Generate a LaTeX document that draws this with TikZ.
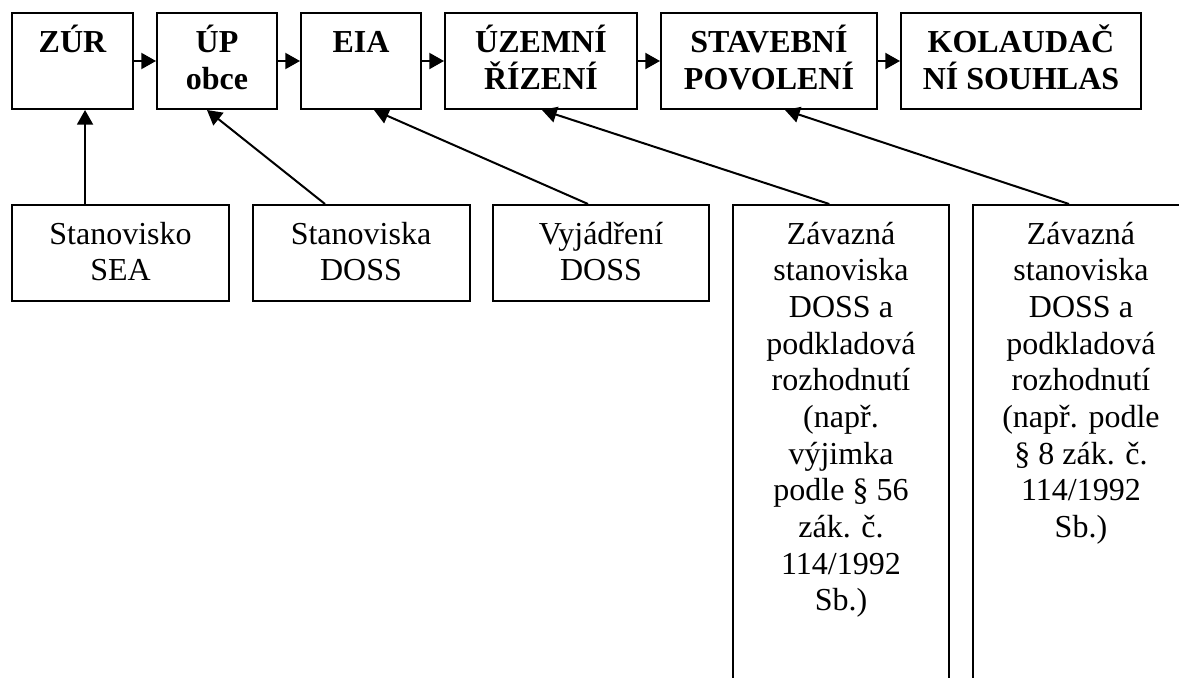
\documentclass[tikz,border=0pt]{standalone}
\usepackage{fontspec}
\setmainfont{Liberation Serif}
\usetikzlibrary{arrows.meta}
\newcommand{\topstrut}{\rule{0pt}{23pt}}
\begin{document}
\begin{tikzpicture}[x=0.75pt,y=-0.75pt,
  box/.style={draw,line width=1.5pt,rectangle,inner sep=0pt},
  txt/.style={anchor=north,align=center,inner sep=0pt,font=\fontsize{24}{27.5}\selectfont},
  btxt/.style={txt,font=\fontsize{24}{27.5}\selectfont\bfseries},
  arr/.style={line width=1.5pt,-{Triangle[length=11pt,width=12pt]}}]
\useasboundingbox (0,0) rectangle (1179,678);
\clip (0,0) rectangle (1179,678);
% top row
\node[box,minimum width=121*0.75pt,minimum height=96*0.75pt] (zur) at (72.5,61) {};
\node[box,minimum width=120*0.75pt,minimum height=96*0.75pt] (up) at (217,61) {};
\node[box,minimum width=120*0.75pt,minimum height=96*0.75pt] (eia) at (361,61) {};
\node[box,minimum width=192*0.75pt,minimum height=96*0.75pt] (uz) at (541,61) {};
\node[box,minimum width=216*0.75pt,minimum height=96*0.75pt] (sp) at (769,61) {};
\node[box,minimum width=240*0.75pt,minimum height=96*0.75pt] (kol) at (1021,61) {};
\node[btxt] (zurt) at ([yshift=-7.5pt]zur.north) {\topstrut ZÚR};
\node[btxt] (upt) at ([yshift=-7.5pt]up.north) {\topstrut ÚP\\obce};
\node[btxt] (eiat) at ([yshift=-7.5pt]eia.north) {\topstrut EIA};
\node[btxt] (uzt) at ([yshift=-7.5pt]uz.north) {\topstrut ÚZEMNÍ\\ŘÍZENÍ};
\node[btxt] (spt) at ([yshift=-7.5pt]sp.north) {\topstrut STAVEBNÍ\\POVOLENÍ};
\node[btxt] (kolt) at ([yshift=-7.5pt]kol.north) {\topstrut KOLAUDAČ\\NÍ SOUHLAS};
% bottom row
\node[box,minimum width=217*0.75pt,minimum height=96*0.75pt] (sea) at (120.5,253) {};
\node[box,minimum width=217*0.75pt,minimum height=96*0.75pt] (sd) at (361,253) {};
\node[box,minimum width=216*0.75pt,minimum height=96*0.75pt] (vd) at (601,253) {};
\node[box,minimum width=216*0.75pt,minimum height=515*0.75pt] (b1) at (841,462.5) {};
\node[box,minimum width=257*0.75pt,minimum height=515*0.75pt] (b2) at (1101.5,462.5) {};
\node[txt] (seat) at ([yshift=-7pt]sea.north) {\topstrut Stanovisko\\SEA};
\node[txt] (sdt) at ([yshift=-7pt]sd.north) {\topstrut Stanoviska\\DOSS};
\node[txt] (vdt) at ([yshift=-7pt]vd.north) {\topstrut Vyjádření\\DOSS};
\node[txt] (b1t) at ([yshift=-7pt]b1.north) {\topstrut Závazná\\stanoviska\\DOSS a\\podkladová\\rozhodnutí\\(např.\\výjimka\\podle § 56\\zák. č.\\114/1992\\Sb.)};
\node[txt] (b2t) at ([xshift=-15.4pt,yshift=-7pt]b2.north) {\topstrut Závazná\\stanoviska\\DOSS a\\podkladová\\rozhodnutí\\(např. podle\\§ 8 zák. č.\\114/1992\\Sb.)};
% horizontal arrows
\draw[arr] (zur.east) -- (up.west);
\draw[arr] (up.east) -- (eia.west);
\draw[arr] (eia.east) -- (uz.west);
\draw[arr] (uz.east) -- (sp.west);
\draw[arr] (sp.east) -- (kol.west);
% upward arrows
\draw[arr] ([xshift=-26.6pt]sea.north) -- ([xshift=9.4pt]zur.south);
\draw[arr] ([xshift=-27pt]sd.north) -- ([xshift=-7.5pt]up.south);
\draw[arr] ([xshift=-9.75pt]vd.north) -- ([xshift=9.75pt]eia.south);
\draw[arr] ([xshift=-8.8pt]b1.north) -- ([xshift=0.75pt]uz.south);
\draw[arr] ([xshift=-24.4pt]b2.north) -- ([xshift=12pt]sp.south);
\end{tikzpicture}
\end{document}
